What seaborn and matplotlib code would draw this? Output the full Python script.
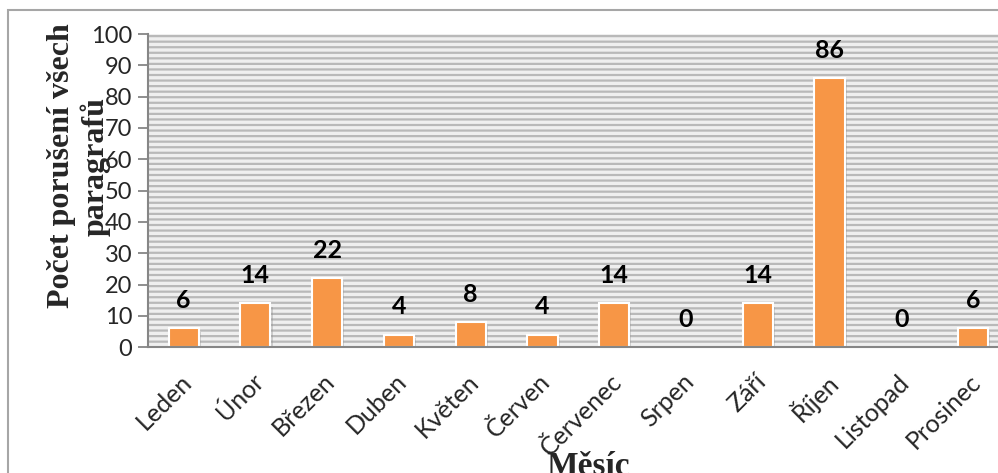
import matplotlib
matplotlib.use("Agg")
import matplotlib.pyplot as plt
import matplotlib.patches as mpatches
import matplotlib.patheffects as pe
import matplotlib.transforms as mtransforms
import seaborn as sns
import pandas as pd


# data
mesice = ["Leden", "Únor", "Březen", "Duben", "Květen", "Červen",
          "Červenec", "Srpen", "Září", "Říjen", "Listopad", "Prosinec"]
poruseni = [6, 14, 22, 4, 8, 4, 14, 0, 14, 86, 0, 6]
y_ticks = [0, 10, 20, 30, 40, 50, 60, 70, 80, 90, 100]

df = pd.DataFrame({"mesic": mesice, "pocet": poruseni})

sns.set_style("white")
plt.rcParams["font.family"] = ["Lato", "DejaVu Sans"]
plt.rcParams["hatch.linewidth"] = 1.6

fig = plt.figure(figsize=(9.98, 4.73), dpi=100)
ax = fig.add_axes([0.148, 0.266, 0.863, 0.662])

# striped background like the Excel pattern fill
ax.set_facecolor("#efefef")
ax.patch.set_hatch("---")
ax.patch.set_edgecolor("#b9b9b9")
ax.patch.set_linewidth(0)

sns.barplot(data=df, x="mesic", y="pocet", color="#F79646",
            width=0.42, edgecolor="white", linewidth=1.5,
            saturation=1, ax=ax)

for bar in ax.patches:
    bar.set_path_effects([pe.SimplePatchShadow(offset=(1.5, -2.5),
                                               shadow_rgbFace="#8a8a8a",
                                               alpha=0.35),
                          pe.Normal()])

# value labels
for i, v in enumerate(poruseni):
    ax.annotate(str(v), (i, v), xytext=(0, 20), textcoords="offset points",
                ha="center", va="center", fontsize=18, fontweight="bold",
                color="black")

ax.set_ylim(0, 100)
ax.set_xlim(-0.5, 11.5)
ax.set_yticks(y_ticks)
ax.tick_params(axis="y", direction="out", length=7, width=1.3,
               color="#868686", labelsize=17, pad=4, left=True)
ax.tick_params(axis="x", length=0, labelsize=18, pad=22)
shift = mtransforms.ScaledTranslation(4 / 100, 0, fig.dpi_scale_trans)
for lab in ax.get_xticklabels():
    lab.set_rotation(45)
    lab.set_rotation_mode("anchor")
    lab.set_ha("right")
    lab.set_va("center")
    lab.set_transform(lab.get_transform() + shift)

for s in ["top", "right"]:
    ax.spines[s].set_visible(False)
ax.spines["left"].set_color("#868686")
ax.spines["left"].set_linewidth(1.5)
ax.spines["bottom"].set_color("#868686")
ax.spines["bottom"].set_linewidth(1.5)

ax.set_xlabel("")
ax.set_ylabel("")

serif = ["Liberation Serif", "DejaVu Serif"]
fig.text(0.079, 0.649, "Počet porušení všech\nparagrafů", rotation=90,
         ha="center", va="center", fontsize=23, fontweight="bold",
         family=serif, linespacing=1.15)
fig.text(0.589, 0.047, "Měsíc", ha="center", va="top", fontsize=24,
         fontweight="bold", family=serif)

# outer chart border (only top and left edges fall inside the image)
fig.patches.append(mpatches.Rectangle((0.008, -0.1), 1.2, 1.079,
                                      transform=fig.transFigure, fill=False,
                                      edgecolor="#a6a6a6", linewidth=1.5))

fig.savefig("out.png", dpi=100)
